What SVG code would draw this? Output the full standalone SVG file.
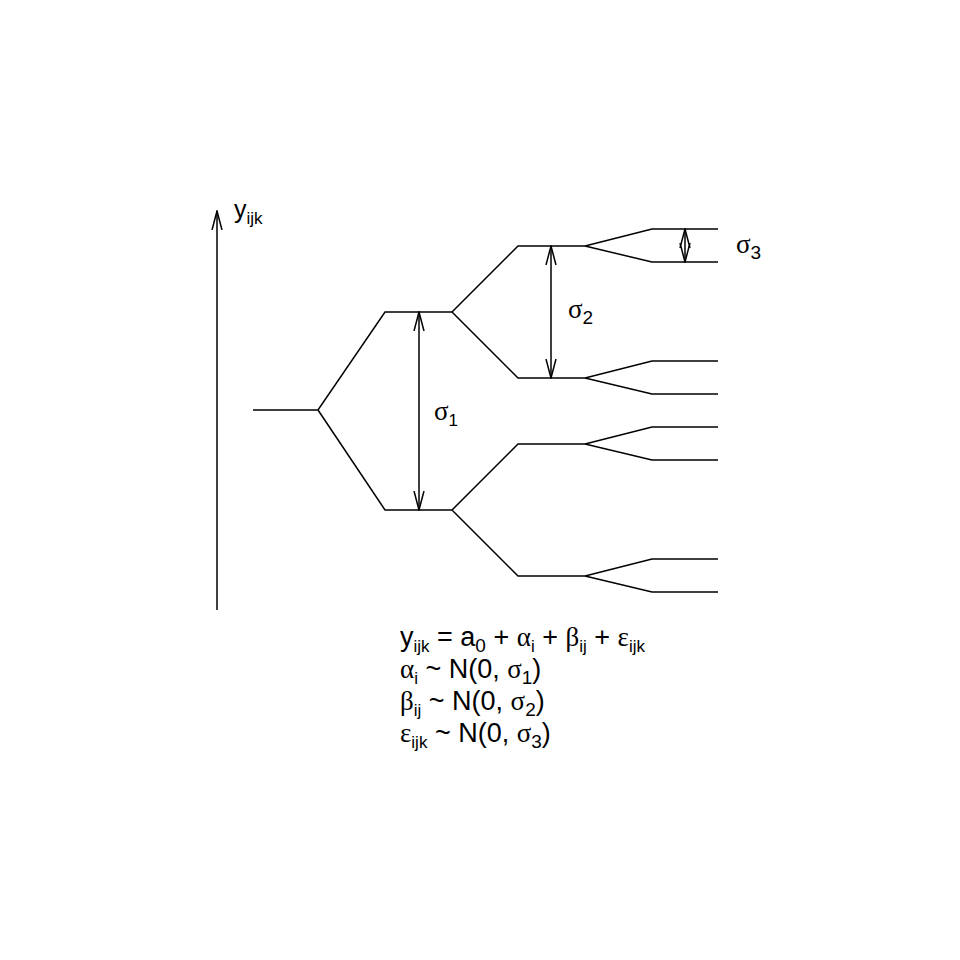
<svg xmlns="http://www.w3.org/2000/svg" width="960" height="960" viewBox="0 0 960 960">
<style>
.l{stroke:#000;stroke-width:1.5;fill:none}
text{font-family:"Liberation Sans",Arial,sans-serif;fill:#000}
.g{font-family:"Liberation Serif","Times New Roman",serif}
.s{font-size:17px}
</style>
<defs>
<marker id="a" viewBox="0 0 20 20" refX="19" refY="10" markerWidth="20" markerHeight="20" markerUnits="userSpaceOnUse" orient="auto-start-reverse">
<path d="M0,5 L19,10 L0,15" fill="none" stroke="#000" stroke-width="1.5"/>
</marker>
</defs>
<rect width="960" height="960" fill="#fff"/>
<g id="connectors">
<line class="l" x1="217" y1="610" x2="217" y2="211" marker-end="url(#a)"/>
<path class="l" d="M253,410H318L385,312H452M318,410L385,510H452"/>
<path class="l" d="M452,312L518,246H585M452,312L518,378H585M452,510L518,444H585M452,510L518,576H585"/>
<path class="l" d="M585,246L652,229H718M585,246L652,262H718M585,378L652,361H718M585,378L652,394H718M585,444L652,427H718M585,444L652,460H718M585,576L652,559H718M585,576L652,592H718"/>
<line class="l" x1="419" y1="312" x2="419" y2="510" marker-start="url(#a)" marker-end="url(#a)"/>
<line class="l" x1="551" y1="246" x2="551" y2="378" marker-start="url(#a)" marker-end="url(#a)"/>
<line class="l" x1="685" y1="229" x2="685" y2="262" marker-start="url(#a)" marker-end="url(#a)"/>
</g>
<g id="labels" font-size="25">
<text x="234" y="218" font-size="25">y<tspan class="s" dy="6">ijk</tspan></text>
<text x="434" y="420"><tspan class="g" font-size="27">σ</tspan><tspan class="s" dy="6" font-size="19">1</tspan></text>
<text x="568" y="318"><tspan class="g" font-size="27">σ</tspan><tspan dy="6" font-size="19">2</tspan></text>
<text x="736" y="253"><tspan class="g" font-size="27">σ</tspan><tspan dy="6" font-size="19">3</tspan></text>
</g>
<g id="formula" font-size="27">
<text x="400" y="646">y<tspan class="s" dy="6">ijk</tspan><tspan dy="-6"> = a</tspan><tspan dy="6" font-size="19">0</tspan><tspan dy="-6"> + </tspan><tspan class="g">α</tspan><tspan class="s" dy="6">i</tspan><tspan dy="-6"> + </tspan><tspan class="g">β</tspan><tspan class="s" dy="6">ij</tspan><tspan dy="-6"> + </tspan><tspan class="g">ε</tspan><tspan class="s" dy="6">ijk</tspan></text>
<text x="400" y="678"><tspan class="g">α</tspan><tspan class="s" dy="6">i</tspan><tspan dy="-6"> ~ N(0, </tspan><tspan class="g">σ</tspan><tspan dy="6" font-size="19">1</tspan><tspan dy="-6">)</tspan></text>
<text x="400" y="710"><tspan class="g">β</tspan><tspan class="s" dy="6">ij</tspan><tspan dy="-6"> ~ N(0, </tspan><tspan class="g">σ</tspan><tspan dy="6" font-size="19">2</tspan><tspan dy="-6">)</tspan></text>
<text x="400" y="742"><tspan class="g">ε</tspan><tspan class="s" dy="6">ijk</tspan><tspan dy="-6"> ~ N(0, </tspan><tspan class="g">σ</tspan><tspan dy="6" font-size="19">3</tspan><tspan dy="-6">)</tspan></text>
</g>
</svg>
